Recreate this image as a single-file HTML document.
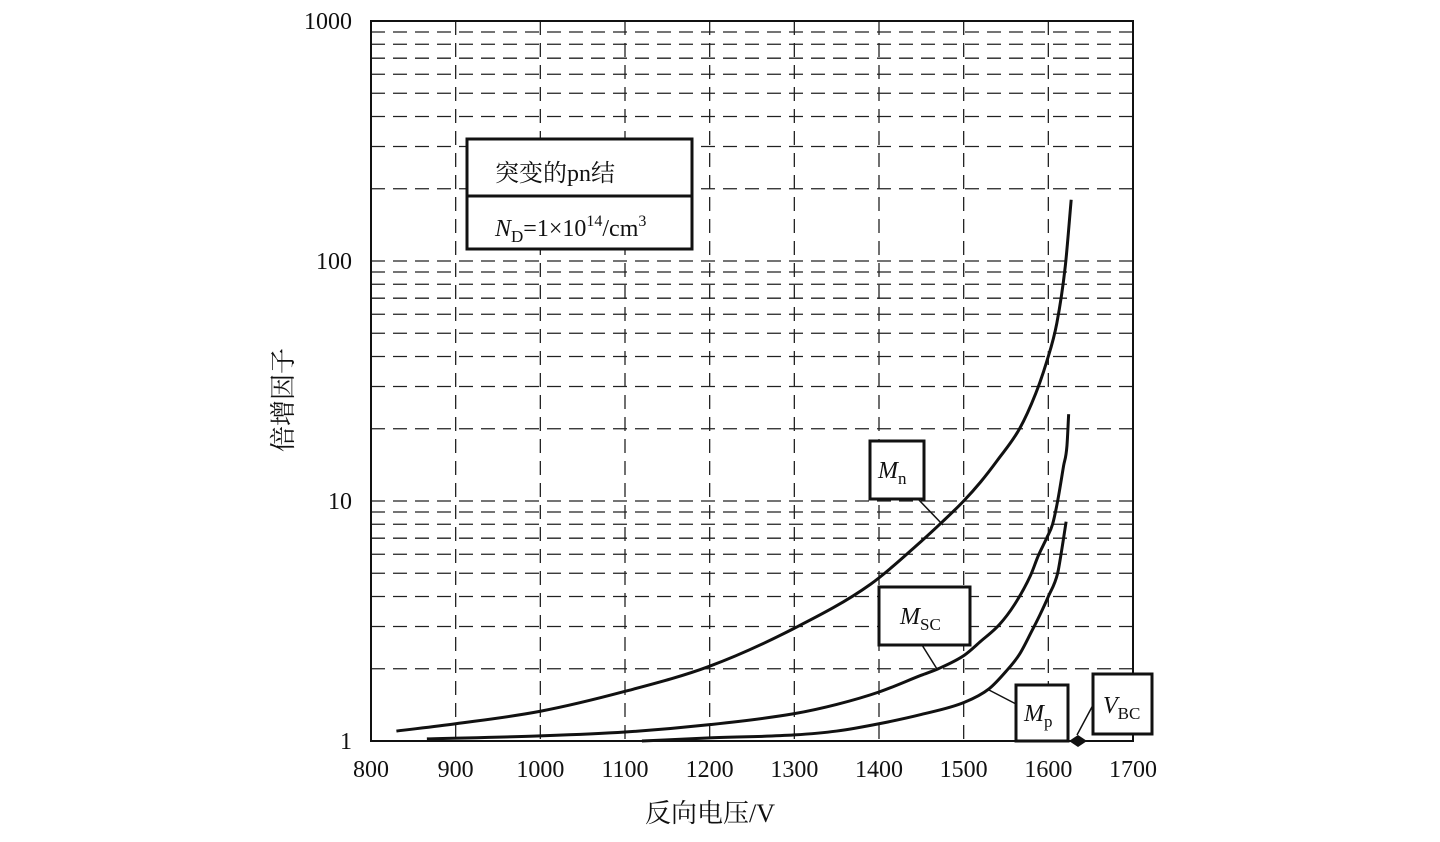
<!DOCTYPE html>
<html><head><meta charset="utf-8"><style>
body{margin:0;background:#fff;}
svg text{font-family:"Liberation Serif","Noto Serif CJK SC",serif;fill:#111;}
</style></head><body>
<svg width="1440" height="837" xmlns="http://www.w3.org/2000/svg">
<g id="grid"></g>
<g id="curves"></g>
<g id="ticks"></g>
<rect x="371" y="21" width="762" height="720" fill="none" stroke="#111" stroke-width="2"/>
<g>
<rect x="467" y="139" width="225" height="110" fill="#fff" stroke="#111" stroke-width="3"/>
<line x1="467" y1="196" x2="692" y2="196" stroke="#111" stroke-width="3"/>
<text x="495" y="181" font-size="24">突变的pn结</text>
<text x="495" y="236" font-size="24"><tspan font-style="italic">N</tspan><tspan font-size="17" dy="6">D</tspan><tspan dy="-6">=1×10</tspan><tspan font-size="16" dy="-10">14</tspan><tspan dy="10">/cm</tspan><tspan font-size="16" dy="-10">3</tspan></text>
</g>
<g>
<line x1="918" y1="499" x2="943" y2="525" stroke="#111" stroke-width="1.5"/>
<rect x="870" y="441" width="54" height="58" fill="#fff" stroke="#111" stroke-width="3"/>
<text x="878" y="478" font-size="24"><tspan font-style="italic">M</tspan><tspan font-size="17" dy="6">n</tspan></text>
</g>
<g>
<line x1="922" y1="645" x2="937" y2="669" stroke="#111" stroke-width="1.5"/>
<rect x="879" y="587" width="91" height="58" fill="#fff" stroke="#111" stroke-width="3"/>
<text x="900" y="624" font-size="24"><tspan font-style="italic">M</tspan><tspan font-size="17" dy="6">SC</tspan></text>
</g>
<g>
<line x1="1016" y1="704" x2="989" y2="690" stroke="#111" stroke-width="1.5"/>
<rect x="1016" y="685" width="52" height="56" fill="#fff" stroke="#111" stroke-width="3"/>
<text x="1024" y="721" font-size="24"><tspan font-style="italic">M</tspan><tspan font-size="17" dy="6">p</tspan></text>
</g>
<g>
<line x1="1093" y1="705" x2="1077" y2="735" stroke="#111" stroke-width="1.5"/>
<rect x="1093" y="674" width="59" height="60" fill="#fff" stroke="#111" stroke-width="3"/>
<text x="1103" y="713" font-size="24"><tspan font-style="italic">V</tspan><tspan font-size="17" dy="6">BC</tspan></text>
<polygon points="1069,741 1078,735 1087,741 1078,747" fill="#111"/>
</g>
<text x="710" y="822" font-size="26" text-anchor="middle">反向电压/V</text>
<text transform="translate(292,400) rotate(-90)" font-size="26" text-anchor="middle">倍增因子</text>
</svg>
<script>
const xTicks=[800,900,1000,1100,1200,1300,1400,1500,1600,1700];
const yTicks=[1,10,100,1000];
const mnV=[830,900,1000,1100,1200,1300,1390,1450,1475,1500,1520,1540,1566,1585,1598,1610,1620,1627];
const mnM=[1.1,1.18,1.33,1.61,2.05,2.95,4.5,6.8,8.2,10,12,14.8,20,28,38,55,95,180];
const mscV=[866,1000,1100,1200,1300,1350,1400,1450,1470,1501,1520,1542,1560,1579,1588,1598,1605,1611,1618,1622,1624];
const mscM=[1.02,1.05,1.09,1.17,1.3,1.42,1.6,1.88,2.0,2.28,2.6,3.05,3.7,4.9,5.9,7.0,8.0,10,14,17,23];
const mpV=[1120,1200,1300,1350,1400,1450,1501,1530,1550,1566,1580,1590,1600,1611,1615,1621];
const mpM=[1.0,1.03,1.06,1.1,1.18,1.29,1.45,1.65,1.95,2.3,2.85,3.35,4.0,5.0,6.0,8.2];
const NS="http://www.w3.org/2000/svg";
const X0=371,X1=1133,Y0=741,Y1=21;
function sx(v){return X0+(v-800)/900*(X1-X0);}
function sy(m){return Y0-Math.log10(m)/3*(Y0-Y1);}
const grid=document.getElementById('grid'),ticks=document.getElementById('ticks'),curves=document.getElementById('curves');
function mk(tag,attrs,parent){const e=document.createElementNS(NS,tag);for(const k in attrs)e.setAttribute(k,attrs[k]);parent.appendChild(e);return e;}
xTicks.forEach(v=>{
  if(v>800&&v<1700){const l=mk('line',{x1:sx(v),x2:sx(v),y1:Y1,y2:Y0,stroke:'#222','stroke-width':1.3,'stroke-dasharray':'14,8'},grid);
  
  }
  const t=mk('text',{x:sx(v),y:777,'font-size':24,'text-anchor':'middle'},ticks);t.textContent=v;
  
  
});
for(let d=0;d<3;d++){for(let k=2;k<=10;k++){const m=k*Math.pow(10,d);if(m>=1000)continue;
  const l=mk('line',{x1:X0,x2:X1,y1:sy(m),y2:sy(m),stroke:'#222','stroke-width':1.3,'stroke-dasharray':'14,8'},grid);
  
  }}
yTicks.forEach(m=>{const t=mk('text',{x:352,y:sy(m)+8,'font-size':24,'text-anchor':'end'},ticks);t.textContent=m;
  
  });
function line(V,M,name){
  const xs=V.map(sx),ys=M.map(sy),n=xs.length;
  const dl=[],m=[];
  for(let i=0;i<n-1;i++)dl.push((ys[i+1]-ys[i])/(xs[i+1]-xs[i]));
  m[0]=dl[0];m[n-1]=dl[n-2];
  for(let i=1;i<n-1;i++){m[i]=(dl[i-1]*dl[i]<=0)?0:(dl[i-1]+dl[i])/2;}
  for(let i=0;i<n-1;i++){if(dl[i]===0){m[i]=0;m[i+1]=0;continue;}
    const a=m[i]/dl[i],b=m[i+1]/dl[i],s=a*a+b*b;
    if(s>9){const t=3/Math.sqrt(s);m[i]=t*a*dl[i];m[i+1]=t*b*dl[i];}}
  let d='M'+xs[0]+','+ys[0];
  for(let i=0;i<n-1;i++){const h=(xs[i+1]-xs[i])/3;
    d+=' C'+(xs[i]+h)+','+(ys[i]+m[i]*h)+' '+(xs[i+1]-h)+','+(ys[i+1]-m[i+1]*h)+' '+xs[i+1]+','+ys[i+1];}
  const p=mk('path',{d:d,fill:'none',stroke:'#111','stroke-width':3},curves);
  
  
}
line(mnV,mnM,'mn-curve');line(mscV,mscM,'msc-curve');line(mpV,mpM,'mp-curve');
</script>
</body></html>
